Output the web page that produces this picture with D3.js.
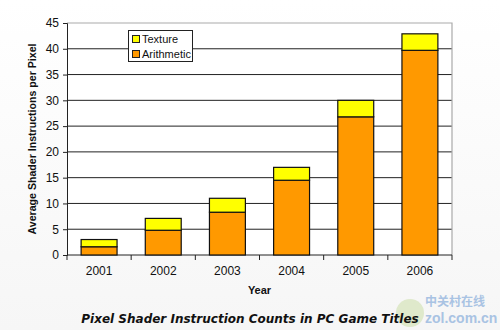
<!DOCTYPE html>
<html><head><meta charset="utf-8">
<script src="https://cdn.jsdelivr.net/npm/d3@7"></script>
<style>body{margin:0;background:#fff}svg{display:block}</style>
</head><body>
<svg id="c" width="500" height="330"></svg>
<script>
const years = ["2001","2002","2003","2004","2005","2006"];
const arithmetic = [1.6, 4.8, 8.3, 14.5, 26.8, 39.7];
const texture = [1.4, 2.3, 2.7, 2.5, 3.2, 3.2];
const yTicks = [0,5,10,15,20,25,30,35,40,45];
const seriesNames = ["Texture","Arithmetic"];
const colors = {Arithmetic:"#ff9900", Texture:"#ffff00"};

const svg = d3.select("#c");
const L=67, R=452, T=23, B=255;
const x = d3.scaleBand().domain(years).range([L,R]).paddingInner(0.44).paddingOuter(0.22);
const y = d3.scaleLinear().domain([0,45]).range([B,T]);
const font = "Liberation Sans, Arial, sans-serif";

const defs = svg.append("defs");
const g = defs.append("linearGradient").attr("id","bg").attr("x1",0).attr("y1",0).attr("x2",0).attr("y2",1);
g.append("stop").attr("offset","0%").attr("stop-color","#ffffff");
g.append("stop").attr("offset","100%").attr("stop-color","#f6f6f6");
svg.append("rect").attr("width",500).attr("height",330).attr("fill","url(#bg)");
svg.append("rect").attr("x",L).attr("y",T).attr("width",R-L).attr("height",B-T).attr("fill","#ffffff");

svg.append("g").selectAll("line").data(yTicks.filter(d=>d>0 && d<45)).join("line")
  .attr("x1",L).attr("x2",R).attr("y1",d=>y(d)).attr("y2",d=>y(d))
  .attr("stroke","#222").attr("stroke-width",1);
svg.append("path").attr("d",`M${L},${T}H${R}V${B}`).attr("fill","none").attr("stroke","#aaa").attr("stroke-width",1.2);

const yAxis = d3.axisLeft(y).tickValues(yTicks).tickSize(4).tickPadding(4);
const ya = svg.append("g").attr("transform",`translate(${L},0)`).call(yAxis);
ya.select(".domain").attr("stroke","#222");
ya.selectAll(".tick line").attr("stroke","#222");
ya.selectAll("text").attr("font-family",font).attr("font-size",12).attr("fill","#111");

const xAxis = d3.axisBottom(x).tickSize(0).tickPadding(11);
const xa = svg.append("g").attr("transform",`translate(0,${B})`).call(xAxis);
xa.select(".domain").attr("stroke","#222").attr("d",`M${L},0H${R}`);
xa.selectAll("text").attr("font-family",font).attr("font-size",12).attr("fill","#111");
xa.append("g").selectAll("line").data(d3.range(years.length+1)).join("line")
  .attr("x1",i=>L+i*((R-L)/years.length)).attr("x2",i=>L+i*((R-L)/years.length))
  .attr("y1",0).attr("y2",5).attr("stroke","#222");

const rows = years.map((yr,i)=>({year:yr, Arithmetic:arithmetic[i], Texture:texture[i]}));
const stack = d3.stack().keys(["Arithmetic","Texture"])(rows);
svg.append("g").selectAll("g").data(stack).join("g")
  .attr("fill",d=>colors[d.key])
  .selectAll("rect").data(d=>d).join("rect")
  .attr("x",d=>x(d.data.year)).attr("width",x.bandwidth())
  .attr("y",d=>y(d[1])).attr("height",d=>y(d[0])-y(d[1]))
  .attr("stroke","#111").attr("stroke-width",1.2);

const lg = svg.append("g");
lg.append("rect").attr("x",128.5).attr("y",30.5).attr("width",64).attr("height",31)
  .attr("fill","#fff").attr("stroke","#222");
seriesNames.forEach((n,i)=>{
  lg.append("rect").attr("x",132.5).attr("y",35.5+i*15).attr("width",7).attr("height",7)
    .attr("fill",colors[n]).attr("stroke","#222");
  lg.append("text").attr("x",142).attr("y",43+i*15).text(n)
    .attr("font-family",font).attr("font-size",11).attr("fill","#111");
});

svg.append("text").attr("transform",`translate(36,${(T+B)/2}) rotate(-90)`)
  .attr("text-anchor","middle").attr("font-family",font).attr("font-weight","bold")
  .attr("font-size",10.6).attr("fill","#111").text("Average Shader Instructions per Pixel");
svg.append("text").attr("x",(L+R)/2).attr("y",294).attr("text-anchor","middle")
  .attr("font-family",font).attr("font-weight","bold").attr("font-size",11).attr("fill","#111").text("Year");

// watermark (behind title)
svg.append("circle").attr("cx",410).attr("cy",313).attr("r",14).attr("fill","#c8dca0").attr("opacity",0.5);
svg.append("text").attr("x",425).attr("y",306).attr("font-family","Noto Sans CJK SC, sans-serif")
  .attr("font-size",12).attr("font-weight","bold").attr("fill","#a9c3e3").text("中关村在线");
svg.append("text").attr("x",425).attr("y",323).attr("font-family",font)
  .attr("font-size",14).attr("font-weight","bold").attr("fill","#a9c3e3").text("zol.com.cn");

svg.append("text").attr("x",250).attr("y",323).attr("text-anchor","middle")
  .attr("font-family","DejaVu Sans, Verdana, sans-serif").attr("font-weight","bold").attr("font-style","italic")
  .attr("font-size",12).attr("fill","#111").text("Pixel Shader Instruction Counts in PC Game Titles");
</script>
</body></html>
